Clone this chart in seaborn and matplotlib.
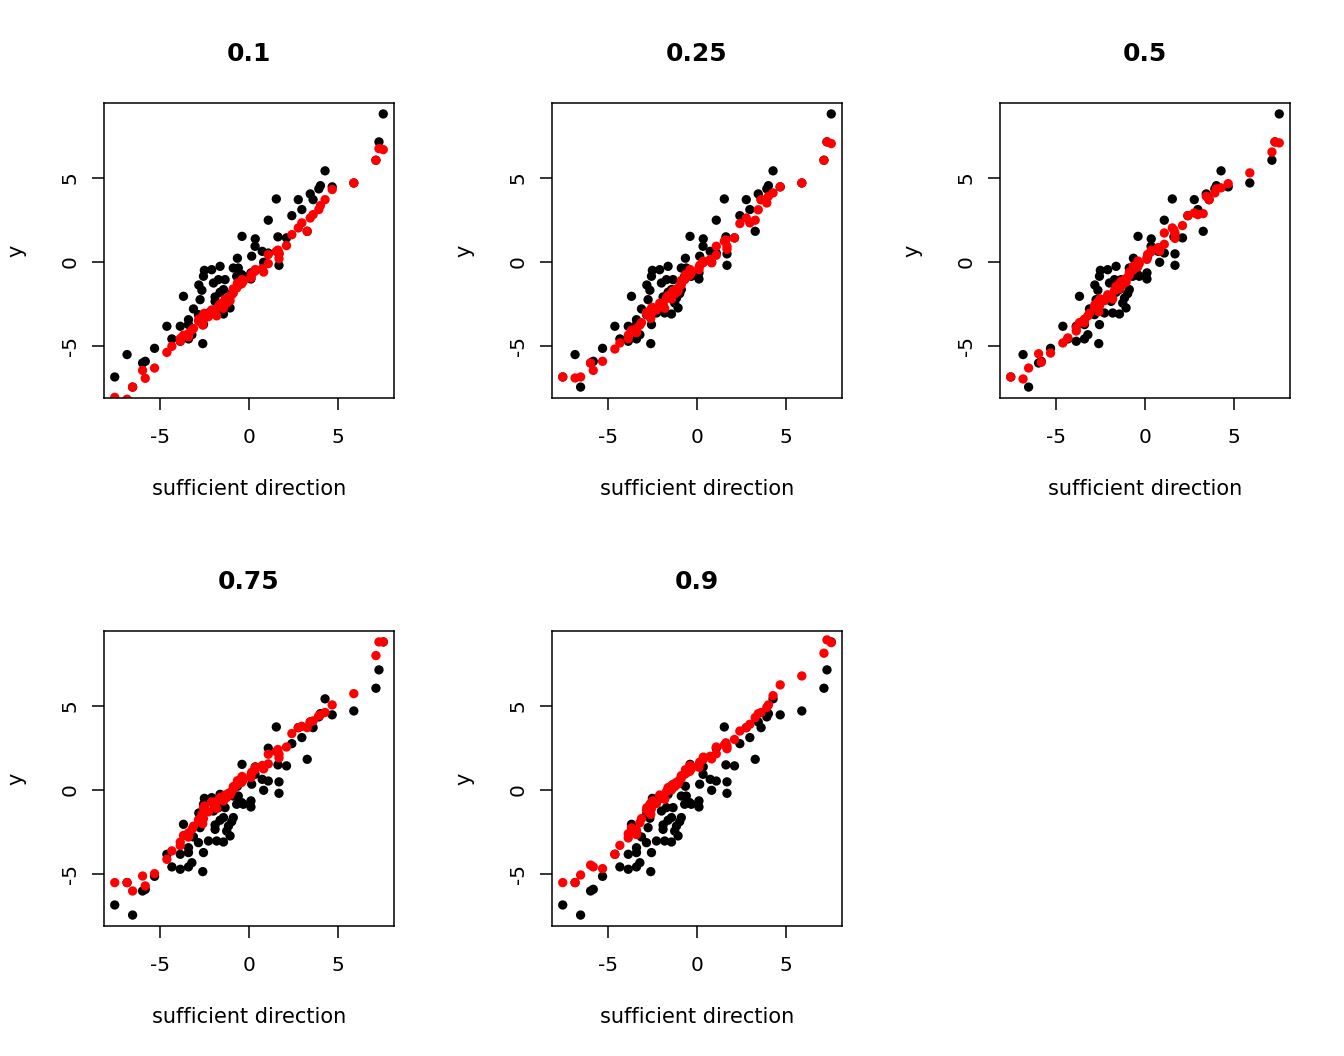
import numpy as np
import pandas as pd
import seaborn as sns
from matplotlib import pyplot as plt

# observed points (same in every panel)
x_dir = [-7.52, -6.83, -6.52, -5.96, -5.81, -5.29, -4.60, -4.32, -3.85, -3.85,
         -3.67, -3.39, -3.39, -3.20, -3.11, -2.81, -2.74, -2.64, -2.59, -2.55,
         -2.55, -2.50, -2.27, -2.09, -1.99, -1.90, -1.81, -1.71, -1.62, -1.43,
         -1.43, -1.34, -1.25, -1.15, -1.06, -0.97, -0.88, -0.88, -0.69, -0.65,
         -0.60, -0.41, -0.39, -0.32, 0.11, 0.11, 0.15, 0.34, 0.35, 0.74,
         0.82, 1.08, 1.08, 1.53, 1.62, 1.68, 1.68, 2.10, 2.40, 2.76,
         2.96, 3.26, 3.43, 3.59, 3.91, 4.00, 4.26, 4.66, 5.87, 7.11,
         7.28, 7.52, -3.39, -2.83, -1.90, -1.62]
y_obs = [-6.83, -5.50, -7.43, -6.00, -5.90, -5.13, -3.82, -4.57, -3.82, -4.71,
         -2.04, -3.43, -4.57, -4.32, -2.79, -1.37, -2.24, -1.68, -4.85, -0.85,
         -3.72, -0.50, -3.03, -0.46, -1.25, -2.34, -3.03, -1.05, -0.26, -1.64,
         -3.09, -1.05, -2.44, -2.14, -2.73, -1.88, -0.36, -1.64, -0.85, 0.22,
         -0.36, -0.75, 1.52, -0.85, -0.65, -1.01, 0.34, 0.93, 1.37, 0.63,
         -0.02, 2.48, 0.53, 3.74, 1.49, -0.20, 0.48, 1.43, 2.75, 3.70,
         3.11, 1.82, 4.04, 3.70, 4.34, 4.53, 5.41, 4.46, 4.69, 6.04,
         7.13, 8.79, -3.72, -3.13, -2.08, -1.80]

# fitted quantile values (red), one list per panel
fit_q10 = [-8.04, -8.15, -7.43, -6.44, -6.91, -6.30, -5.37, -5.01, -4.55, -4.70,
           -4.35, -4.25, -4.45, -4.05, -3.95, -3.40, -3.55, -3.30, -3.75, -3.15,
           -3.45, -3.05, -3.25, -2.85, -2.95, -3.10, -3.20, -2.65, -2.50, -2.40,
           -2.75, -2.20, -2.45, -2.10, -2.30, -1.95, -1.60, -1.85, -1.55, -1.25,
           -1.40, -1.30, -1.05, -1.15, -0.85, -0.95, -0.70, -0.55, -0.45, -0.40,
           -0.60, 0.44, -0.10, 0.63, 0.70, 0.20, 0.53, 0.97, 1.62, 2.02,
           2.32, 1.82, 2.61, 2.81, 3.11, 3.35, 3.70, 4.30, 4.69, 6.04,
           6.73, 6.67, -4.30, -3.50, -2.90, -2.60]
fit_q25 = [-6.83, -6.89, -6.83, -6.00, -6.44, -5.90, -5.17, -4.81, -4.35, -4.55,
           -4.05, -3.95, -4.20, -3.75, -3.60, -3.00, -3.15, -2.90, -3.35, -2.75,
           -3.05, -2.70, -2.85, -2.45, -2.55, -2.65, -2.75, -2.15, -2.00, -1.85,
           -2.20, -1.70, -1.90, -1.60, -1.75, -1.45, -1.10, -1.35, -1.05, -0.75,
           -0.90, -0.80, -0.45, -0.65, -0.35, -0.45, -0.20, -0.05, 0.05, 0.15,
           -0.05, 0.93, 0.40, 1.23, 1.30, 0.75, 0.93, 1.43, 2.28, 2.61,
           2.32, 2.48, 3.10, 3.70, 3.50, 3.90, 4.10, 4.46, 4.69, 6.04,
           7.13, 7.03, -4.10, -3.05, -2.50, -2.05]
fit_q50 = [-6.83, -6.95, -6.30, -5.45, -5.96, -5.41, -4.81, -4.51, -3.90, -4.10,
           -3.60, -3.40, -3.60, -3.20, -3.05, -2.55, -2.70, -2.40, -2.95, -2.25,
           -2.60, -2.20, -2.30, -1.95, -2.00, -2.10, -2.20, -1.70, -1.45, -1.30,
           -1.60, -1.15, -1.35, -1.05, -1.20, -0.90, -0.60, -0.80, -0.50, -0.25,
           -0.40, -0.30, 0.05, -0.10, 0.25, 0.15, 0.45, 0.60, 0.70, 0.85,
           0.65, 1.72, 1.05, 2.02, 1.90, 1.40, 1.72, 2.16, 2.75, 2.91,
           2.81, 2.87, 3.90, 3.70, 4.10, 4.34, 4.40, 4.65, 5.29, 6.53,
           7.13, 7.07, -3.45, -2.65, -2.05, -1.55]
fit_q75 = [-5.50, -5.50, -6.00, -5.11, -5.70, -4.97, -4.12, -3.62, -3.10, -3.30,
           -2.70, -2.55, -2.80, -2.35, -2.15, -1.75, -1.85, -1.45, -2.00, -1.05,
           -1.70, -0.95, -1.30, -0.70, -0.85, -1.00, -1.10, -0.60, -0.45, -0.40,
           -0.65, -0.30, -0.45, -0.20, -0.30, -0.10, 0.20, 0.05, 0.30, 0.55,
           0.35, 0.45, 0.80, 0.60, 0.90, 0.75, 1.05, 1.20, 1.35, 1.45,
           1.25, 2.12, 1.55, 2.28, 2.40, 1.90, 2.12, 2.55, 3.35, 3.70,
           3.78, 3.70, 4.04, 4.10, 4.40, 4.46, 4.60, 5.05, 5.72, 7.98,
           8.79, 8.79, -2.60, -1.80, -0.90, -0.50]
fit_q90 = [-5.50, -5.50, -5.05, -4.46, -4.57, -4.67, -3.82, -3.29, -2.60, -2.85,
           -2.25, -2.40, -2.65, -1.95, -1.70, -1.05, -1.25, -0.85, -1.45, -0.75,
           -1.10, -0.65, -0.80, -0.30, -0.40, -0.50, -0.55, -0.10, 0.14, 0.25,
           0.00, 0.34, 0.20, 0.45, 0.35, 0.60, 0.85, 0.70, 0.93, 1.20,
           1.00, 1.10, 1.45, 1.25, 1.50, 1.35, 1.65, 1.80, 1.95, 2.00,
           1.85, 2.55, 2.15, 2.67, 2.80, 2.45, 2.60, 3.00, 3.50, 3.70,
           3.90, 4.30, 4.53, 4.60, 4.90, 5.05, 5.60, 6.24, 6.77, 8.12,
           8.91, 8.75, -2.50, -1.20, -0.45, 0.05]

taus = ['0.1', '0.25', '0.5', '0.75', '0.9']
fits = [fit_q10, fit_q25, fit_q50, fit_q75, fit_q90]

obs = pd.DataFrame({'x': x_dir, 'y': y_obs})

sns.set_style('white')
plt.rcParams['font.family'] = ['DejaVu Sans']
plt.rcParams['axes.unicode_minus'] = False
plt.rcParams['text.color'] = 'black'
plt.rcParams['axes.labelcolor'] = 'black'
plt.rcParams['xtick.color'] = 'black'
plt.rcParams['ytick.color'] = 'black'

fig = plt.figure(figsize=(13.44, 10.56), dpi=100)
W, H = 1344, 1056
lefts = [104, 552, 1000]
tops = [103, 631]
pw, ph = 290, 295

# R style 4% padding around data range
xr = max(x_dir) - min(x_dir)
yr = max(y_obs) - min(y_obs)
xlim = (min(x_dir) - 0.04 * xr, max(x_dir) + 0.04 * xr)
ylim = (min(y_obs) - 0.04 * yr, max(y_obs) + 0.04 * yr)

for k, tau in enumerate(taus):
    r, c = divmod(k, 3)
    ax = fig.add_axes([lefts[c] / W, 1 - (tops[r] + ph) / H, pw / W, ph / H])
    fit = pd.DataFrame({'x': x_dir, 'y': fits[k]})
    sns.scatterplot(data=obs, x='x', y='y', ax=ax, color='black', s=45,
                    linewidth=0, edgecolor='none')
    sns.scatterplot(data=fit, x='x', y='y', ax=ax, color='#ff0000', s=45,
                    linewidth=0, edgecolor='none')
    ax.set_xlim(xlim)
    ax.set_ylim(ylim)
    ax.set_xticks([-5, 0, 5])
    ax.set_yticks([-5, 0, 5])
    for sp in ax.spines.values():
        sp.set_color('black')
        sp.set_linewidth(1.1)
    ax.tick_params(axis='both', direction='out', length=8.5, width=1.1,
                   color='black', labelcolor='black', labelsize=14.5,
                   bottom=True, left=True)
    ax.tick_params(axis='x', pad=13)
    ax.tick_params(axis='y', pad=9)
    for lab in ax.get_yticklabels():
        lab.set_rotation(90)
        lab.set_va('center')
    ax.set_xlabel('sufficient direction', fontsize=15, labelpad=23)
    ax.set_ylabel('y', fontsize=15, labelpad=25)
    ax.set_title(tau, fontsize=18, fontweight='bold', pad=30, color='black')

fig.savefig('out.png', dpi=100)
